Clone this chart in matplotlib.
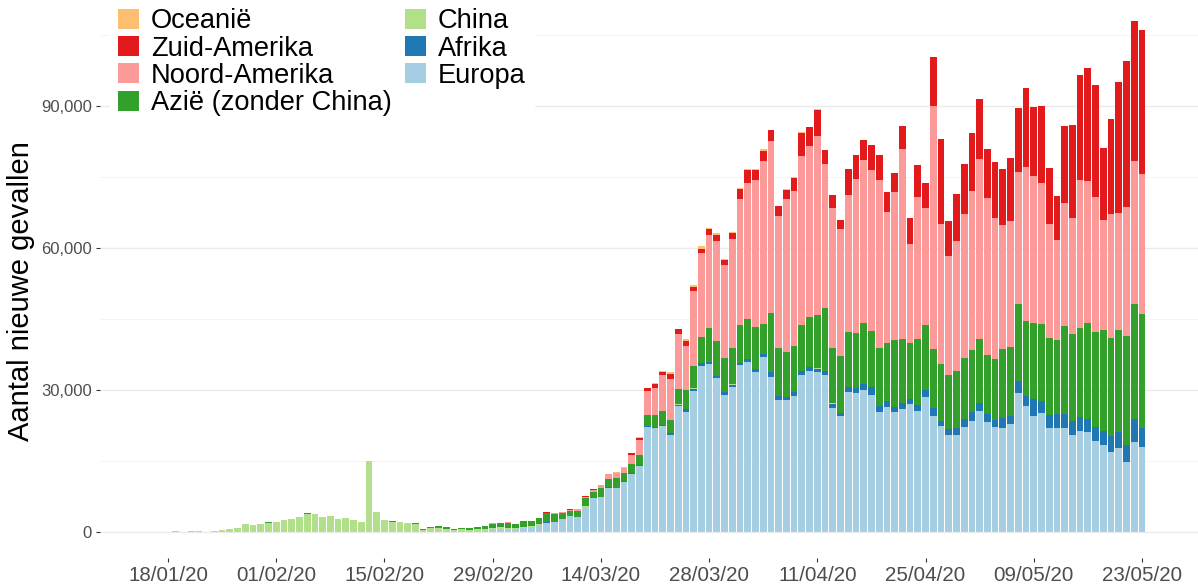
import numpy as np
import pandas as pd
import matplotlib
matplotlib.use('Agg')
import matplotlib.pyplot as plt
import matplotlib.dates as mdates
from matplotlib.patches import Patch

plt.rcParams['font.family'] = ['Liberation Sans', 'DejaVu Sans']

# daily new cases per continent, 17/01/20 .. 23/05/20 (one row per week)
dates = pd.date_range('2020-01-17', '2020-05-23', freq='D')

china = [4, 17, 136, 19, 151, 140, 97,
         259, 441, 665, 787, 1753, 1466, 1740,
         1980, 2101, 2590, 2827, 3235, 3884, 3694,
         3143, 3385, 2652, 2973, 2550, 2015, 15000,
         4200, 2540, 2100, 2048, 1886, 1749, 420,
         890, 820, 650, 220, 510, 410, 430,
         330, 430, 570, 200, 125, 120, 140,
         145, 100, 45, 40, 20, 25, 15,
         10, 15, 20, 25, 20, 15, 35,
         40, 45, 45, 40, 75, 60, 70,
         65, 55, 45, 40, 50, 45, 35,
         30, 20, 25, 30, 40, 60, 60,
         45, 100, 110, 110, 90, 45, 50,
         30, 30, 25, 15, 10, 10, 10,
         8, 10, 10, 5, 5, 20, 5,
         5, 5, 5, 5, 5, 5, 5,
         5, 5, 15, 5, 15, 5, 5,
         5, 5, 5, 5, 5, 5, 5,
         5, 5]

azie = [0, 1, 2, 3, 3, 5, 8,
        10, 8, 12, 10, 15, 20, 18,
        25, 20, 25, 18, 30, 40, 50,
        50, 60, 40, 45, 50, 45, 60,
        100, 60, 150, 90, 110, 100, 200,
        170, 300, 250, 250, 250, 330, 500,
        700, 1000, 800, 1200, 950, 1250, 1050,
        1250, 1800, 1650, 1250, 1150, 1350, 1700,
        1350, 1840, 1765, 2050, 1765, 1980, 2260,
        2330, 2540, 3040, 2680, 3320, 4020, 4730,
        5440, 7130, 7400, 7130, 7620, 7980, 8540,
        9040, 6500, 12500, 10240, 9460, 9740, 9670,
        10380, 11300, 13200, 11650, 11860, 11510, 11510,
        12780, 11860, 12360, 12360, 14120, 13410, 11720,
        13770, 13560, 12360, 12000, 11300, 12000, 12780,
        13130, 13410, 12360, 12850, 14610, 14540, 16240,
        15890, 16100, 16380, 16400, 15470, 18620, 18400,
        18760, 20410, 20050, 21190, 20760, 21620, 22910,
        24270, 23990]

europa = [0, 0, 0, 0, 0, 0, 0,
          3, 0, 1, 0, 1, 0, 2,
          5, 2, 1, 3, 2, 1, 1,
          1, 3, 2, 1, 0, 2, 1,
          1, 2, 0, 1, 0, 1, 3,
          20, 60, 80, 100, 90, 110, 200,
          300, 350, 450, 600, 650, 850, 1050,
          1500, 2000, 2100, 2650, 3300, 3100, 5350,
          7130, 7340, 9390, 9250, 10660, 12210, 13910,
          22100, 21960, 22300, 20550, 26550, 25400, 29860,
          35020, 35370, 32550, 29020, 30640, 35230, 35860,
          33680, 36920, 32760, 27820, 27820, 28800, 33110,
          34100, 33750, 33250, 26190, 24430, 29510, 29370,
          29930, 29020, 25270, 26330, 25350, 25980, 27110,
          25490, 28520, 24570, 22310, 20540, 20540, 22100,
          23370, 25490, 23160, 22170, 21890, 22870, 29370,
          26550, 24570, 25130, 21900, 21980, 21980, 20550,
          21410, 21120, 19260, 18400, 16830, 17830, 14680,
          18970, 18040]

afrika = [0, 0, 0, 0, 0, 0, 0,
          0, 0, 0, 0, 0, 0, 0,
          0, 0, 0, 0, 0, 0, 0,
          0, 0, 0, 0, 0, 0, 0,
          0, 0, 0, 0, 0, 0, 0,
          0, 0, 0, 0, 0, 0, 1,
          0, 2, 3, 5, 5, 5, 8,
          10, 15, 20, 15, 20, 25, 30,
          50, 60, 70, 80, 100, 150, 150,
          200, 210, 210, 350, 350, 565, 420,
          565, 495, 350, 494, 494, 494, 635,
          635, 565, 1060, 850, 706, 706, 850,
          777, 706, 706, 847, 706, 1060, 1060,
          1340, 1550, 1270, 1270, 1060, 1270, 990,
          1410, 1550, 1620, 1060, 1200, 1410, 1765,
          1906, 1765, 1836, 1553, 2190, 1694, 2470,
          2120, 3530, 2470, 2700, 3010, 2860, 2860,
          2860, 2650, 2860, 3010, 3370, 3290, 3720,
          4800, 3940]

noord_amerika = [0, 0, 0, 0, 1, 0, 0,
                 1, 1, 2, 0, 0, 0, 0,
                 1, 1, 3, 1, 0, 0, 1,
                 0, 0, 0, 1, 0, 1, 1,
                 0, 0, 0, 0, 0, 0, 5,
                 10, 2, 0, 3, 5, 5, 5,
                 10, 30, 20, 30, 30, 40, 50,
                 70, 200, 100, 200, 250, 380, 400,
                 420, 650, 1000, 1050, 920, 1900, 3100,
                 5080, 5720, 7550, 8750, 11500, 9250, 15740,
                 17790, 19700, 21180, 19770, 23090, 26620, 28660,
                 30990, 34240, 36150, 27680, 32330, 32620, 35720,
                 36150, 37840, 30360, 29510, 26970, 28950, 32480,
                 34380, 34030, 35300, 27530, 31200, 40100, 20970,
                 30000, 24850, 51400, 29650, 25270, 27530, 30500,
                 33540, 38120, 33110, 29650, 26120, 26620, 28030,
                 32480, 30920, 29720, 23950, 21190, 25920, 24560,
                 31360, 29930, 28640, 23200, 26130, 24700, 27210,
                 30360, 29570]

zuid_amerika = [0, 0, 0, 0, 0, 0, 0,
                0, 0, 0, 0, 0, 0, 0,
                0, 0, 0, 0, 0, 0, 0,
                0, 0, 0, 0, 0, 0, 0,
                0, 0, 0, 0, 0, 0, 0,
                0, 0, 0, 0, 0, 0, 0,
                0, 1, 1, 1, 2, 3, 3,
                5, 8, 10, 10, 15, 20, 25,
                30, 50, 60, 80, 150, 350, 420,
                565, 780, 565, 1060, 1060, 1060, 850,
                920, 1130, 1200, 1060, 1270, 2120, 2750,
                2120, 2190, 2330, 2190, 1910, 2900, 4940,
                4100, 5510, 3040, 2820, 1900, 5510, 5080,
                4380, 5300, 5300, 4380, 4100, 4940, 5440,
                6710, 5150, 10380, 18000, 7270, 9880, 10450,
                12210, 12710, 10310, 11860, 11860, 13200, 13410,
                16730, 14610, 16170, 11870, 9380, 16320, 19550,
                22050, 23770, 23480, 15250, 20050, 27570, 30930,
                29500, 30500]

oceanie = [0, 0, 0, 0, 0, 0, 0,
           0, 0, 0, 0, 0, 0, 0,
           0, 0, 0, 0, 0, 0, 0,
           0, 0, 0, 0, 0, 0, 0,
           0, 0, 0, 0, 0, 0, 0,
           0, 0, 0, 0, 0, 0, 0,
           0, 0, 0, 0, 0, 2, 3,
           5, 5, 8, 8, 10, 10, 10,
           10, 15, 40, 50, 60, 80, 100,
           150, 180, 210, 280, 100, 490, 490,
           490, 350, 420, 140, 280, 100, 100,
           100, 350, 100, 80, 60, 50, 50,
           40, 40, 30, 30, 20, 20, 20,
           20, 15, 15, 10, 10, 10, 10,
           10, 10, 10, 10, 10, 5, 5,
           5, 5, 5, 5, 5, 5, 5,
           5, 5, 5, 5, 5, 5, 5,
           5, 5, 5, 5, 5, 5, 5,
           5, 5]

# stacking order, bottom to top
series = [('Europa', europa, '#A6CEE3'),
          ('Afrika', afrika, '#1F78B4'),
          ('China', china, '#B2DF8A'),
          ('Azië (zonder China)', azie, '#33A02C'),
          ('Noord-Amerika', noord_amerika, '#FB9A99'),
          ('Zuid-Amerika', zuid_amerika, '#E31A1C'),
          ('Oceanië', oceanie, '#FDBF6F')]

for name, vals, col in series:
    assert len(vals) == len(dates), name

fig = plt.figure(figsize=(11.98, 5.86), dpi=100)
ax = fig.add_axes([100/1198, 28/586, 1098/1198, 558/586])

x = mdates.date2num(dates)
bottom = np.zeros(len(dates))
for name, vals, col in series:
    vals = np.array(vals, dtype=float)
    ax.bar(x, vals, width=0.87, bottom=bottom, color=col, linewidth=0, zorder=2)
    bottom += vals

# axes styling (minimal theme)
day0 = mdates.date2num(pd.Timestamp('2020-01-18'))
ax.set_xlim(day0 - 8.8, day0 + 133.25)
ax.set_ylim(-5490, 112330)

tick_dates = pd.date_range('2020-01-18', '2020-05-23', freq='14D')
ax.set_xticks(mdates.date2num(tick_dates))
ax.set_xticklabels([d.strftime('%d/%m/%y') for d in tick_dates])
ax.set_yticks([0, 30000, 60000, 90000])
ax.set_yticklabels(['0', '30,000', '60,000', '90,000'])
ax.set_yticks([15000, 45000, 75000, 105000], minor=True)

ax.grid(axis='y', which='major', color='#EBEBEB', linewidth=1.0, zorder=0)
ax.grid(axis='y', which='minor', color='#F3F3F3', linewidth=0.6, zorder=0)
ax.set_axisbelow(True)
for s in ax.spines.values():
    s.set_visible(False)

ax.tick_params(axis='x', which='major', length=3, width=0.8, color='#333333',
               labelcolor='#4D4D4D', labelsize=14.8, pad=3)
ax.tick_params(axis='y', which='major', length=3, width=0.8, color='#333333',
               labelcolor='#4D4D4D', labelsize=12, pad=3)
ax.tick_params(axis='y', which='minor', length=0)

ax.set_ylabel('Aantal nieuwe gevallen', fontsize=21, color='black')
ax.yaxis.set_label_coords(-0.059, 0.478)

# legend, column-wise like the original
order = ['Oceanië', 'Zuid-Amerika', 'Noord-Amerika', 'Azië (zonder China)',
         'China', 'Afrika', 'Europa']
colors = {name: col for name, vals, col in series}
handles = [Patch(facecolor=colors[n], edgecolor='none') for n in order]
leg = fig.legend(handles, order, ncol=2, loc='upper left',
                 bbox_to_anchor=(110/1198, 1.0), fontsize=19.6,
                 frameon=True, facecolor='white', edgecolor='white', framealpha=1,
                 fancybox=False, handlelength=0.75, handleheight=0.75,
                 handletextpad=0.45, columnspacing=0.5, labelspacing=0.05,
                 borderpad=0.3, borderaxespad=0)
leg.set_zorder(5)

plt.savefig('out.png', dpi=100)
